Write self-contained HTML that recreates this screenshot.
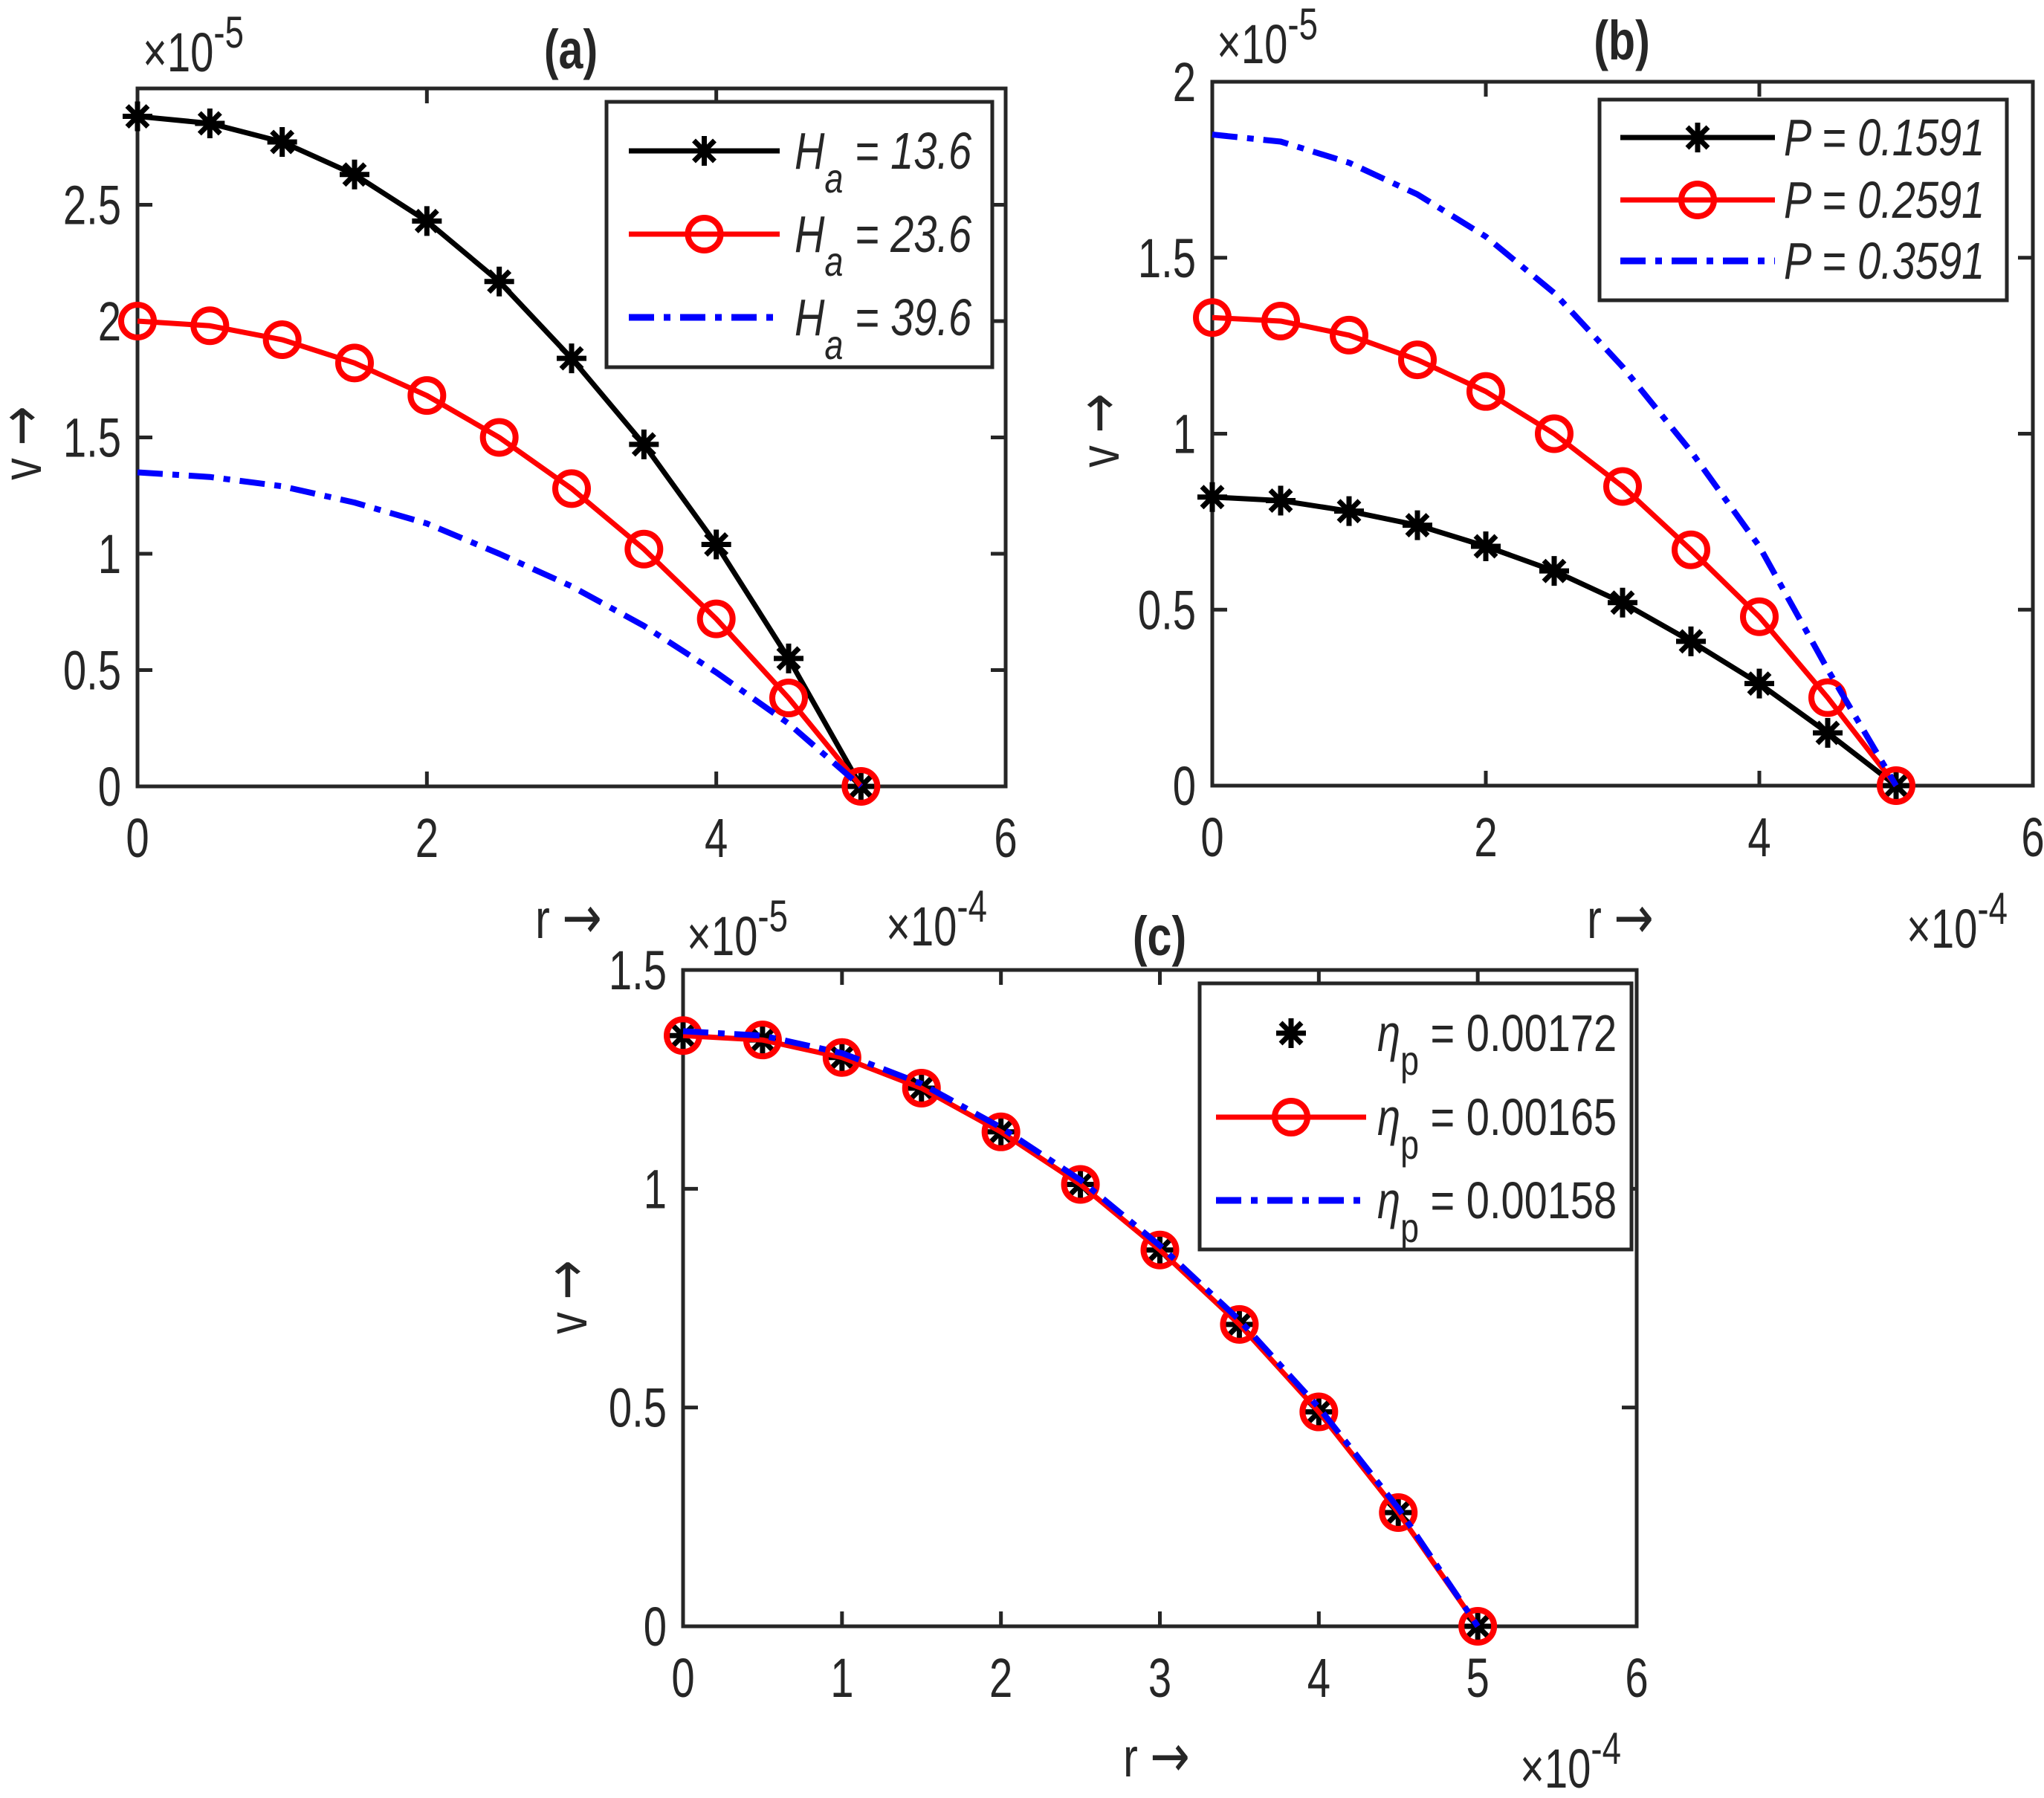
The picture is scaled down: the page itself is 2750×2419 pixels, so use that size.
<!DOCTYPE html>
<html><head><meta charset="utf-8">
<style>
html,body{margin:0;padding:0;background:#fff;}
svg{display:block;}
text{font-family:"Liberation Sans",Arial,sans-serif;fill:#262626;}
</style></head>
<body>
<svg id="fig" width="2750" height="2419" viewBox="0 0 2750 2419" xmlns="http://www.w3.org/2000/svg"></svg>
<script>
const rVals = [0,0.5,1,1.5,2,2.5,3,3.5,4,4.5,5];
const xTicksAB = [0,2,4,6];
const xTicksC = [0,1,2,3,4,5,6];
const yTicksA = [0,0.5,1,1.5,2,2.5];
const yTicksB = [0,0.5,1,1.5,2];
const yTicksC = [0,0.5,1,1.5];
const aHa136 = [2.88,2.85,2.77,2.63,2.43,2.17,1.84,1.47,1.04,0.55,0];
const aHa236 = [2.00,1.98,1.92,1.82,1.68,1.50,1.28,1.02,0.72,0.38,0];
const aHa396 = [1.35,1.33,1.29,1.22,1.13,1.00,0.86,0.69,0.49,0.27,0];
const bP1591 = [0.82,0.81,0.78,0.74,0.68,0.61,0.52,0.41,0.29,0.15,0];
const bP2591 = [1.33,1.32,1.28,1.21,1.12,1.00,0.85,0.67,0.48,0.25,0];
const bP3591 = [1.85,1.83,1.77,1.68,1.56,1.40,1.19,0.95,0.68,0.33,0];
const cEta172 = [1.35,1.34,1.30,1.23,1.13,1.01,0.86,0.69,0.49,0.26,0];
const cEta165 = [1.35,1.34,1.30,1.23,1.13,1.01,0.86,0.69,0.49,0.26,0];
const cEta158 = [1.36,1.35,1.31,1.24,1.14,1.02,0.87,0.70,0.50,0.27,0];

const NS="http://www.w3.org/2000/svg";
const svg=document.getElementById('fig');
function el(tag,attrs,parent){const e=document.createElementNS(NS,tag);for(const k in attrs)e.setAttribute(k,attrs[k]);(parent||svg).appendChild(e);return e;}
function txt(str,x,y,size,anchor,parent){
  const t=el('text',{x:0,y:0,'font-size':size,'text-anchor':anchor||'start',transform:'translate('+x+','+y+') scale(0.76,1)'},parent);
  t.textContent=str;return t;}
function star(g,x,y,s,col){
  const p=el('path',{d:`M${x-s},${y}H${x+s}M${x},${y-s}V${y+s}M${x-s*0.7},${y-s*0.7}L${x+s*0.7},${y+s*0.7}M${x-s*0.7},${y+s*0.7}L${x+s*0.7},${y-s*0.7}`,stroke:col,'stroke-width':7,fill:'none'},g);
  
  }
function circ(g,x,y,col){
  const c=el('circle',{cx:x,cy:y,r:22,fill:'none',stroke:col,'stroke-width':8},g);
  
  }
const DASHDOT='34 13 9 13';

function panel(cfg){
  const g=el('g',{});
  
  
  const L=cfg.L,R=cfg.R,T=cfg.T,B=cfg.B;
  const xs=v=>L+(v-cfg.xmin)/(cfg.xmax-cfg.xmin)*(R-L);
  const ys=v=>B-(v-cfg.ymin)/(cfg.ymax-cfg.ymin)*(B-T);
  const fr=el('rect',{x:L,y:T,width:R-L,height:B-T,fill:'#fff',stroke:'#262626','stroke-width':5},g);
  
  
  cfg.xt.forEach(v=>{const x=xs(v);
    el('path',{d:`M${x},${B}V${B-20}M${x},${T}V${T+20}`,stroke:'#262626','stroke-width':5},g);
    const t=txt(String(v),x,B+95,74,'middle',g);
    
    });
  cfg.yt.forEach(v=>{const y=ys(v);
    el('path',{d:`M${L},${y}H${L+20}M${R},${y}H${R-20}`,stroke:'#262626','stroke-width':5},g);
    const t=txt(String(v),L-22,y+26,74,'end',g);
    
    });
  cfg.series.forEach(s=>{
    const pts=rVals.map((r,i)=>xs(r)+','+ys(s.v[i])).join(' ');
    if(s.line){const pl=el('polyline',{points:pts,fill:'none',stroke:s.col,'stroke-width':s.dash?8:7,'stroke-dasharray':s.dash||'none','stroke-linejoin':'round'},g);
      
      }
    if(s.mk==='star')rVals.forEach((r,i)=>star(g,xs(r),ys(s.v[i]),20,s.col));
    if(s.mk==='circ')rVals.forEach((r,i)=>circ(g,xs(r),ys(s.v[i]),s.col));
  });
  const lg=cfg.lg;
  const lb=el('rect',{x:lg.x,y:lg.y,width:lg.w,height:lg.h,fill:'#fff',stroke:'#262626','stroke-width':5},g);
  
  
  cfg.series.forEach((s,i)=>{
    const yy=lg.rows[i];
    const eg=el('g',{},g);
    
    
    if(s.line)el('line',{x1:lg.l1,x2:lg.l2,y1:yy,y2:yy,stroke:s.col,'stroke-width':s.dash?9:7,'stroke-dasharray':s.dash||'none'},eg);
    const mx=(lg.l1+lg.l2)/2;
    if(s.mk==='star')star(eg,mx,yy,20,s.col);
    if(s.mk==='circ')circ(eg,mx,yy,s.col);
    lg.label(eg,lg.tx,yy,s.lab);
  });
  return {g,xs,ys};
}
function haLabel(g,x,y,val){
  const t=el('text',{x:0,y:0,'font-size':70,transform:`translate(${x},${y+24}) scale(0.8,1)`,'font-style':'italic'},g);
  
  
  const a=el('tspan',{},t);a.textContent='H';
  const b=el('tspan',{dy:32,'font-size':56},t);b.textContent='a';
  const c=el('tspan',{dy:-32},t);c.textContent=' = '+val;}
function pLabel(g,x,y,val){
  const t=el('text',{x:0,y:0,'font-size':70,transform:`translate(${x},${y+24}) scale(0.8,1)`,'font-style':'italic'},g);
  
  
  t.textContent='P = '+val;}
function etaLabel(g,x,y,val){
  const t=el('text',{x:0,y:0,'font-size':70,transform:`translate(${x},${y+24}) scale(0.8,1)`},g);
  
  
  const a=el('tspan',{'font-style':'italic'},t);a.textContent='η';
  const b=el('tspan',{dy:32,'font-size':56},t);b.textContent='p';
  const c=el('tspan',{dy:-32},t);c.textContent=' = '+val;}

const black='#000', red='#ff0000', blue='#0000ff';
panel({name:'panel-a',L:185,R:1353,T:119,B:1058,xmin:0,xmax:6,ymin:0,ymax:3,xt:xTicksAB,yt:yTicksA,
 series:[{id:'ha-13-6',v:aHa136,col:black,line:true,mk:'star',lab:'13.6'},
         {id:'ha-23-6',v:aHa236,col:red,line:true,mk:'circ',lab:'23.6'},
         {id:'ha-39-6',v:aHa396,col:blue,line:true,dash:DASHDOT,lab:'39.6'}],
 lg:{x:816,y:137,w:519,h:357,rows:[203,315,427],l1:846,l2:1049,tx:1069,label:haLabel}});
panel({name:'panel-b',L:1631,R:2735,T:110,B:1057,xmin:0,xmax:6,ymin:0,ymax:2,xt:xTicksAB,yt:yTicksB,
 series:[{id:'p-0-1591',v:bP1591,col:black,line:true,mk:'star',lab:'0.1591'},
         {id:'p-0-2591',v:bP2591,col:red,line:true,mk:'circ',lab:'0.2591'},
         {id:'p-0-3591',v:bP3591,col:blue,line:true,dash:DASHDOT,lab:'0.3591'}],
 lg:{x:2152,y:134,w:548,h:270,rows:[185,269,351],l1:2180,l2:2388,tx:2400,label:pLabel}});
panel({name:'panel-c',L:919,R:2202,T:1305,B:2188,xmin:0,xmax:6,ymin:0,ymax:1.5,xt:xTicksC,yt:yTicksC,
 series:[{id:'eta-0-00172',v:cEta172,col:black,line:false,mk:'star',lab:'0.00172'},
         {id:'eta-0-00165',v:cEta165,col:red,line:true,mk:'circ',lab:'0.00165'},
         {id:'eta-0-00158',v:cEta158,col:blue,line:true,dash:DASHDOT,lab:'0.00158'}],
 lg:{x:1614,y:1323,w:581,h:358,rows:[1390,1503,1615],l1:1636,l2:1838,tx:1853,label:etaLabel}});

function expo(x,y,e,name){
  const t=el('text',{x:0,y:0,'font-size':74,transform:`translate(${x},${y}) scale(0.76,1)`});
  
  
  const a=el('tspan',{},t);a.textContent='×10';
  const b=el('tspan',{dy:-32,'font-size':60},t);b.textContent=e;}
function label(str,x,y,name,bold,rot){
  const t=el('text',{x:0,y:0,'font-size':74,'text-anchor':'middle',transform:`translate(${x},${y})${rot?' rotate(-90)':''} scale(0.8,1)`});
  if(bold)t.setAttribute('font-weight','bold');
  
  
  t.textContent=str;
  return t;}
function axLabel(letter,x,y,name,rot){
  const t=el('text',{x:0,y:0,'font-size':74,'text-anchor':'middle',transform:`translate(${x},${y})${rot?' rotate(-90)':''} scale(0.8,1)`});
  
  
  const a=el('tspan',{},t);a.textContent=letter+' ';
  const b=el('tspan',{'font-family':'DejaVu Sans','font-size':80},t);b.textContent='→';}
expo(192,96,'-5','y-exponent-a');
expo(1637,85,'-5','y-exponent-b');
expo(924,1285,'-5','y-exponent-c');
expo(1192,1272,'-4','x-exponent-a');
expo(2565,1275,'-4','x-exponent-b');
expo(2045,2405,'-4','x-exponent-c');
label('(a)',768,92,'title-a',true);
label('(b)',2182,80,'title-b',true);
label('(c)',1560,1285,'title-c',true);
axLabel('r',765,1262,'x-axis-title-a');
axLabel('r',2180,1262,'x-axis-title-b');
axLabel('r',1556,2390,'x-axis-title-c');
axLabel('v',55,596,'y-axis-title-a',true);
axLabel('v',1505,579,'y-axis-title-b',true);
axLabel('v',789,1745,'y-axis-title-c',true);
</script>
</body></html>
